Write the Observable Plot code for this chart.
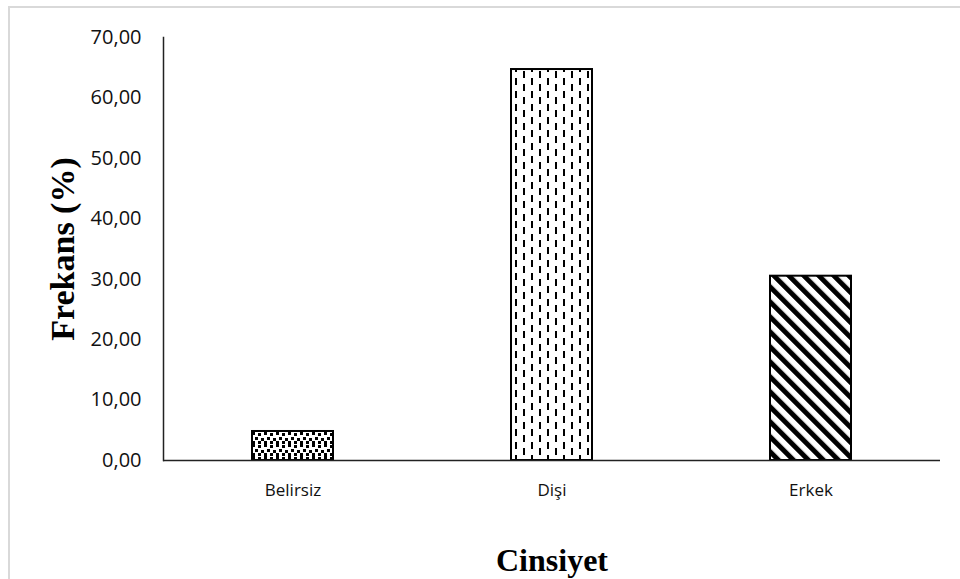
<!DOCTYPE html>
<html>
<head>
<meta charset="utf-8">
<script src="https://cdn.jsdelivr.net/npm/d3@7"></script>
<script src="https://cdn.jsdelivr.net/npm/@observablehq/plot@0.6"></script>
<style>
  body { margin: 0; background: white; }
  #wrap { position: relative; width: 960px; height: 579px; overflow: hidden; }
  #frame { position: absolute; left: 8px; top: 6px; width: 1000px; height: 700px;
           border-left: 2px solid #d9d9d9; border-top: 2px solid #d9d9d9; pointer-events: none; }
</style>
</head>
<body>
<div id="wrap"><div id="frame"></div></div>
<script>
const categories = ["Belirsiz", "Dişi", "Erkek"];
const values = [4.8, 64.7, 30.5];
const yTicks = [0, 10, 20, 30, 40, 50, 60, 70];
const yTitle = "Frekans (%)";
const xTitle = "Cinsiyet";

const patternFor = {"Belirsiz": "url(#pDots)", "Dişi": "url(#pDash)", "Erkek": "url(#pDiag)"};
const data = categories.map((c, i) => ({cat: c, val: values[i]}));

const tickFont = "'Open Sans', 'Noto Sans', sans-serif";
const titleFont = "'Liberation Serif', 'DejaVu Serif', serif";

const chart = Plot.plot({
  width: 960,
  height: 579,
  marginLeft: 163,
  marginRight: 20,
  marginTop: 37,
  marginBottom: 119,
  style: {background: "transparent"},
  x: {domain: categories, paddingInner: 0.687, paddingOuter: 0.3435, label: null},
  y: {domain: [0, 70], label: null},
  color: {type: "identity"},
  marks: [
    Plot.barY(data, {x: "cat", y: "val", fill: d => patternFor[d.cat], stroke: "black", strokeWidth: 2}),
    Plot.ruleY([0], {stroke: "#222", strokeWidth: 1.5}),
    Plot.frame({anchor: "left", stroke: "#222", strokeWidth: 1.5}),
    Plot.axisY(yTicks, {tickSize: 0, tickPadding: 22, tickFormat: d => d.toFixed(2).replace(".", ","),
      fontSize: 20, fontFamily: tickFont, fill: "#111", label: null}),
    Plot.axisX({tickSize: 0, tickPadding: 23, fontSize: 17, fontFamily: tickFont, fill: "#111", label: null}),
    Plot.text([yTitle], {frameAnchor: "left", textAnchor: "middle", lineAnchor: "middle", rotate: -90, dx: -100,
      fontSize: 34, fontWeight: "bold", fontFamily: titleFont, fill: "black"}),
    Plot.text([xTitle], {frameAnchor: "bottom", lineAnchor: "middle", dy: 100, fontSize: 32, fontWeight: "bold",
      fontFamily: titleFont, fill: "black"})
  ]
});

const defs = `
<defs>
  <pattern id="pDots" patternUnits="userSpaceOnUse" width="12" height="12">
    <rect width="12" height="12" fill="white"/>
    <rect x="0" y="0" width="3" height="3" fill="black"/>
    <rect x="6" y="1" width="3" height="3" fill="black"/>
    <rect x="3" y="5" width="3" height="3" fill="black"/>
    <rect x="9" y="6" width="3" height="3" fill="black"/>
    <rect x="0" y="9" width="3" height="3" fill="black"/>
    <rect x="6" y="9" width="3" height="3" fill="black"/>
  </pattern>
  <pattern id="pDash" patternUnits="userSpaceOnUse" width="16" height="13">
    <rect width="16" height="13" fill="white"/>
    <rect x="3" y="0" width="2" height="7" fill="black"/>
    <rect x="11" y="6" width="2" height="7" fill="black"/>
  </pattern>
  <pattern id="pDiag" patternUnits="userSpaceOnUse" width="10.6" height="10.6" patternTransform="rotate(-45)">
    <rect width="10.6" height="10.6" fill="white"/>
    <rect x="0" y="0" width="5" height="10.6" fill="black"/>
  </pattern>
</defs>`;
chart.insertAdjacentHTML("afterbegin", defs);
chart.style.position = "absolute";
chart.style.left = "0";
chart.style.top = "0";
document.getElementById("wrap").appendChild(chart);
</script>
</body>
</html>
